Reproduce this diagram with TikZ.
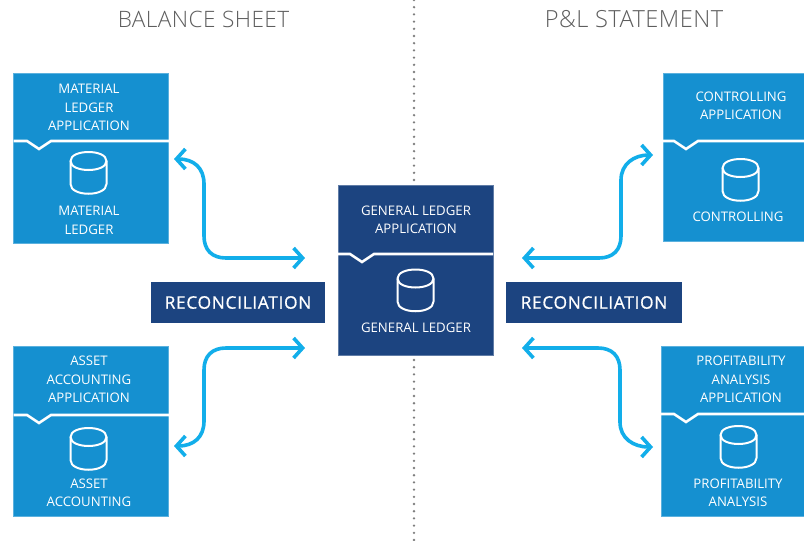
\documentclass[tikz,border=0pt]{standalone}
\usepackage{fontspec}
\setmainfont{Open Sans}
\newfontfamily\headfont[LetterSpace=2]{Open Sans Light}
\newfontfamily\recfont[LetterSpace=4,FakeBold=0.7]{Open Sans}
\usetikzlibrary{arrows.meta,positioning}
\definecolor{lightblue}{HTML}{1590D0}
\definecolor{darkblue}{HTML}{1C4480}
\definecolor{arrowblue}{HTML}{12AEEA}
\definecolor{headgray}{HTML}{5E5E5E}
\tikzset{
  panel/.style={anchor=north west,inner sep=0pt,outer sep=0pt,minimum width=#1},
  boxlight/.style={fill=lightblue,draw=lightblue!70!white,line width=.5pt},
  boxdark/.style={fill=darkblue,draw=darkblue!70!white,line width=.5pt},
  boxtext/.style={text=white,font=\fontsize{13.2}{18.4}\selectfont,align=center,inner sep=0pt},
  headtext/.style={text=headgray,font=\headfont\fontsize{22.6}{26}\selectfont,inner sep=0pt},
  recbox/.style={fill=darkblue,text=white,font=\recfont\fontsize{17.3}{20}\selectfont,
    minimum width=#1,minimum height=41pt,inner sep=0pt},
  divider/.style={draw=white,line width=2.6pt,line join=miter},
  iconline/.style={draw=white,line width=2pt,line join=round},
  link/.style={draw=arrowblue,line width=3.6pt,
    {Straight Barb[length=9pt,width=20pt,line width=3.6pt]}-{Straight Barb[length=9pt,width=20pt,line width=3.6pt]}},
}
% \dbicon{cx}{cy}: database cylinder 37 wide, 42 high
\newcommand{\dbicon}[2]{%
  \begin{scope}[shift={(#1,#2)}]
    \path[iconline] (-18,-12) .. controls (-18,-24) and (18,-24) .. (18,-12)
      -- (18,11) .. controls (18,24) and (-18,24) .. (-18,11) -- cycle;
    \path[iconline] (-18,-12) .. controls (-18,0) and (18,0) .. (18,-12);
  \end{scope}}
% \notchline{x1}{x2}{y}{notch-x}: white divider with a downward notch
\newcommand{\notchline}[4]{%
  \path[divider] (#1,#3) -- (#4-12,#3) -- (#4,#3+8) -- (#4+12,#3) -- (#2,#3);}
\begin{document}
\begin{tikzpicture}[x=1pt,y=-1pt]
\useasboundingbox (0,0) rectangle (804,541);
\fill[white] (0,0) rectangle (804,541);
% centre rule
\coordinate (ruletop) at (414,0);
\coordinate (rulebot) at (414,541);
\draw[draw=headgray!80,line width=2.6pt,line cap=round,dash pattern=on 0pt off 7.2pt] (ruletop) -- (rulebot);
% headings
\node[headtext] (hleft) at (203.5,19) {BALANCE SHEET};
\node[headtext,font=\headfont\fontsize{23.6}{26}\selectfont] (hright) at (634,19) {P\&L STATEMENT};
% boxes
\node[boxlight,panel=155pt,minimum height=170pt] (mat) at (13.5,73) {};
\node[boxlight,panel=155pt,minimum height=170pt] (ass) at (13.5,346) {};
\node[boxlight,panel=141pt,minimum height=168pt] (con) at (663,73) {};
\node[boxlight,panel=143pt,minimum height=170pt] (pro) at (661,346) {};
\node[boxdark,panel=155pt,minimum height=170pt] (gl) at (338,185) {};
% dividers
\notchline{13.5}{169}{141}{39}
\notchline{13.5}{169}{415}{39}
\notchline{663}{804}{141}{686}
\notchline{661}{804}{414}{686}
\notchline{338}{493}{254}{362}
% icons
\dbicon{88.5}{173}
\dbicon{88.5}{449}
\dbicon{740.5}{180}
\dbicon{738.5}{447}
\dbicon{415.5}{290.5}
% box labels
\node[boxtext] (matA) at (89,107.5) {MATERIAL\\LEDGER\\APPLICATION};
\node[boxtext] (matB) at (89,220.5) {MATERIAL\\LEDGER};
\node[boxtext] (assA) at (89,379.5) {ASSET\\ACCOUNTING\\APPLICATION};
\node[boxtext] (assB) at (89,492.5) {ASSET\\ACCOUNTING};
\node[boxtext] (conA) at (741,105.5) {CONTROLLING\\APPLICATION};
\node[boxtext] (conB) at (738,216.5) {CONTROLLING};
\node[boxtext] (proA) at (741,379.5) {PROFITABILITY\\ANALYSIS\\APPLICATION};
\node[boxtext] (proB) at (738,492.5) {PROFITABILITY\\ANALYSIS};
\node[boxtext] (glA) at (416,219.5) {GENERAL LEDGER\\APPLICATION};
\node[boxtext] (glB) at (416,327.5) {GENERAL LEDGER};
% reconciliation
\node[recbox=174.5pt] (recL) at (238,302.5) {RECONCILIATION};
\node[recbox=176pt] (recR) at (594,302.5) {RECONCILIATION};
% connector ends
\coordinate (matEnd) at (174,159);
\coordinate (assEnd) at (174,446);
\coordinate (conEnd) at (653,155);
\coordinate (proEnd) at (653,447);
\coordinate (glNW) at (305,258);
\coordinate (glSW) at (305,348);
\coordinate (glNE) at (522,258);
\coordinate (glSE) at (522,348);
% connectors
\path[link] (matEnd) .. controls (194,159) and (204,168) .. (204,184) -- (204,236)
  .. controls (204,250) and (212,258) .. (226,258) -- (glNW);
\path[link] (assEnd) .. controls (194,446) and (204,437) .. (204,421) -- (204,370)
  .. controls (204,356) and (212,348) .. (226,348) -- (glSW);
\path[link] (conEnd) .. controls (634,155) and (621,164) .. (621,180) -- (621,236)
  .. controls (621,250) and (613,258) .. (599,258) -- (glNE);
\path[link] (proEnd) .. controls (633,447) and (620,438) .. (620,422) -- (620,370)
  .. controls (620,356) and (612,348) .. (598,348) -- (glSE);
\end{tikzpicture}
\end{document}
